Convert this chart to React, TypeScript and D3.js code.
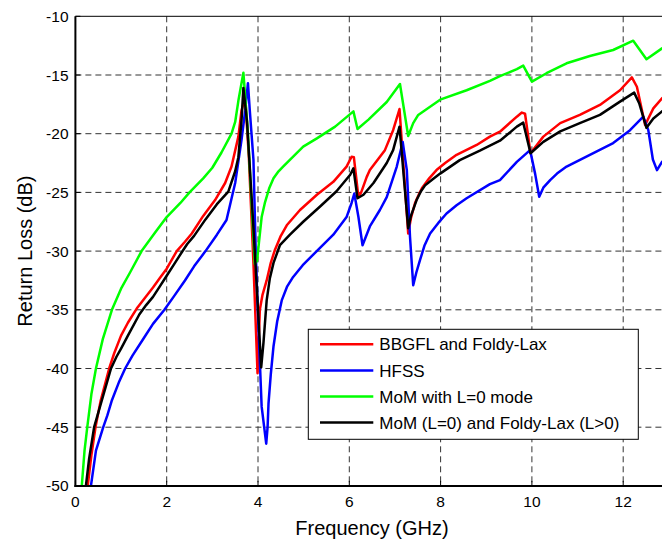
import React from "react";
import * as d3 from "d3";

type Pt = [number, number];

const xTicks = [0, 2, 4, 6, 8, 10, 12];
const yTicks = [-10, -15, -20, -25, -30, -35, -40, -45, -50];

const seriesNames = [
  "BBGFL and Foldy-Lax",
  "HFSS",
  "MoM with L=0 mode",
  "MoM (L=0) and Foldy-Lax (L>0)",
];
const seriesColors = ["#ff0000", "#0000ff", "#00ff00", "#000000"];

const bbgfl: Pt[] = [
  [0.2, -53], [0.27, -50], [0.35, -47.4], [0.44, -45], [0.55, -42.8], [0.74, -40],
  [0.85, -38.7], [1.0, -37.2], [1.15, -36.1], [1.36, -34.8], [1.5, -34.1], [1.7, -33.1],
  [1.85, -32.3], [2.0, -31.5], [2.22, -30], [2.4, -29.2], [2.55, -28.5], [2.8, -27],
  [3.06, -25.65], [3.28, -24.2], [3.42, -22.8], [3.57, -20.25], [3.64, -18.0], [3.72, -16.9],
  [3.8, -22], [3.9, -31], [3.99, -40.4], [4.04, -35], [4.1, -33.7], [4.19, -32.5],
  [4.28, -31], [4.37, -29.9], [4.5, -28.7], [4.63, -27.8], [4.92, -26.5], [5.29, -25.2],
  [5.65, -24.1], [5.94, -22.8], [6.05, -21.96], [6.1, -22.0], [6.2, -25.4], [6.26, -25.0],
  [6.38, -23.7], [6.45, -23.1], [6.78, -21.4], [6.96, -19.7], [7.1, -17.9], [7.29, -28.5],
  [7.35, -27.2], [7.44, -25.9], [7.52, -25.2], [7.59, -24.65], [7.75, -23.8], [7.91, -23.1],
  [8.1, -22.5], [8.35, -21.8], [8.79, -20.96], [9.08, -20.25], [9.3, -19.83], [9.67, -18.55],
  [9.78, -18.2], [9.85, -18.3], [9.97, -21.67], [10.25, -20.25], [10.62, -19.1],
  [11.05, -18.4], [11.49, -17.55], [11.93, -16.3], [12.19, -15.2], [12.3, -16.0],
  [12.48, -19.26], [12.66, -17.84], [12.85, -16.98], [13.2, -16],
];

const hfss: Pt[] = [
  [0.3, -53], [0.34, -50], [0.45, -47], [0.61, -45], [0.7, -44], [0.8, -42.7], [0.95, -41.2],
  [1.09, -40], [1.25, -38.9], [1.5, -37.4], [1.7, -36.2], [1.95, -35], [2.15, -33.9],
  [2.4, -32.5], [2.6, -31.3], [2.85, -30], [3.1, -28.6], [3.31, -27.35], [3.5, -24.2],
  [3.64, -20.5], [3.72, -18], [3.78, -15.7], [3.82, -18], [3.9, -22.2], [3.95, -30],
  [3.99, -34.5], [4.08, -43.25], [4.18, -46.4], [4.21, -45], [4.23, -43], [4.28, -40.5],
  [4.34, -38.1], [4.42, -36], [4.52, -34.2], [4.64, -33], [4.77, -32.2], [4.98, -31.2],
  [5.21, -30.3], [5.65, -28.6], [5.94, -27.1], [6.05, -25.9], [6.11, -25.1], [6.2, -27.1],
  [6.29, -29.5], [6.45, -27.9], [6.67, -26.5], [6.82, -25.4], [7.04, -22.8], [7.17, -20.7],
  [7.26, -23.1], [7.33, -28.8], [7.4, -32.9], [7.47, -31.8], [7.55, -30.75], [7.65, -29.5],
  [7.77, -28.5], [7.95, -27.6], [8.13, -26.8], [8.35, -26.1], [8.57, -25.5], [9.08, -24.3],
  [9.3, -23.95], [9.67, -22.4], [9.96, -21.4], [10.07, -23.4], [10.16, -25.37],
  [10.25, -24.6], [10.4, -23.95], [10.55, -23.4], [10.76, -22.8], [11.27, -21.8],
  [11.78, -20.8], [12.15, -19.7], [12.44, -18.55], [12.55, -19.7], [12.65, -22.2],
  [12.74, -23.1], [12.85, -22.4], [13.1, -21.5],
];

const momL0: Pt[] = [
  [0.1, -53], [0.14, -50], [0.2, -47], [0.26, -45], [0.35, -42.2], [0.45, -40], [0.6, -37.5],
  [0.8, -35], [1.0, -33.2], [1.2, -31.8], [1.45, -30], [1.75, -28.4], [2.0, -27.1],
  [2.3, -25.9], [2.5, -25], [2.8, -23.8], [3.0, -22.9], [3.2, -21.6], [3.42, -20],
  [3.5, -19], [3.57, -17.2], [3.68, -14.8], [3.78, -20], [3.88, -27.5], [3.93, -31.1],
  [3.98, -30.8], [4.02, -29.3], [4.08, -27.1], [4.15, -25.9], [4.25, -24.6], [4.34, -23.8],
  [4.45, -23.2], [4.55, -22.8], [4.99, -21.1], [5.29, -20.4], [5.69, -19.4], [6.09, -18.1],
  [6.18, -19.6], [6.42, -18.8], [6.82, -17.3], [7.11, -15.77], [7.29, -20.2], [7.4, -19.1],
  [7.51, -18.4], [7.99, -17.1], [8.57, -16.3], [9.08, -15.5], [9.3, -15.1], [9.67, -14.5],
  [9.81, -14.2], [10.0, -15.57], [10.32, -14.85], [10.76, -14.0], [11.27, -13.38],
  [11.78, -12.87], [12.22, -12.08], [12.51, -13.66], [12.85, -12.73], [13.2, -11.9],
];

const momFoldy: Pt[] = [
  [0.18, -53], [0.23, -50], [0.3, -47.7], [0.41, -45], [0.55, -43.1], [0.78, -40],
  [0.9, -39], [1.0, -38.3], [1.15, -37.2], [1.4, -35.4], [1.55, -34.6], [1.7, -33.9],
  [1.85, -33], [2.0, -32.1], [2.15, -31.2], [2.33, -30.1], [2.45, -29.4], [2.6, -28.7],
  [2.85, -27.3], [3.1, -26], [3.35, -24.94], [3.5, -23.2], [3.57, -22.0], [3.64, -18.8],
  [3.68, -16.1], [3.76, -19], [3.9, -28], [4.07, -39.9], [4.12, -37.8], [4.19, -34.2],
  [4.26, -32.3], [4.34, -31.0], [4.48, -29.5], [4.7, -28.6], [4.99, -27.5], [5.36, -26.2],
  [5.72, -24.9], [6.02, -23.5], [6.09, -22.95], [6.18, -25.5], [6.31, -25.2], [6.53, -24.2],
  [6.82, -22.5], [6.96, -21.4], [7.1, -19.4], [7.29, -28.06], [7.35, -27], [7.48, -25.6],
  [7.57, -24.9], [7.66, -24.4], [7.82, -23.9], [7.99, -23.4], [8.42, -22.25], [8.86, -21.45],
  [9.3, -20.6], [9.67, -19.4], [9.81, -19.06], [9.97, -21.67], [10.25, -20.7],
  [10.62, -19.8], [11.05, -19.1], [11.49, -18.4], [11.93, -17.27], [12.24, -16.5],
  [12.35, -17.4], [12.51, -19.5], [12.66, -18.7], [12.85, -18.1], [13.2, -17.2],
];

const allSeries = [bbgfl, hfss, momL0, momFoldy];

export default function App() {
  const W = 662;
  const H = 546;
  const left = 75.4;
  const top = 16.3;
  const bottom = 485.9;
  const x = d3.scaleLinear().domain([0, 13]).range([left, left + 13 * 45.65]);
  const y = d3.scaleLinear().domain([-50, -10]).range([bottom, top]);
  const right = x(13);
  const line = d3
    .line<Pt>()
    .x((d) => x(d[0]))
    .y((d) => y(d[1]));
  const font = "Arial, 'Liberation Sans', Helvetica, sans-serif";

  const legX = 308.3;
  const legY = 329.3;
  const legW = 330;
  const legH = 110;
  const rowY = [344.3, 370.5, 396.5, 422.5];

  return (
    <svg
      width={W}
      height={H}
      style={{ position: "absolute", left: 0, top: 0, background: "#fff" }}
      fontFamily={font}
    >
      <defs>
        <clipPath id="plotClip">
          <rect x={left} y={top} width={right - left} height={bottom - top} />
        </clipPath>
      </defs>
      <rect x={0} y={0} width={W} height={H} fill="#fff" />
      <g stroke="#333" strokeWidth={1} strokeDasharray="6,4">
        {xTicks
          .filter((t) => t > 0)
          .map((t) => (
            <line key={"gx" + t} x1={x(t)} x2={x(t)} y1={top} y2={bottom} />
          ))}
        {yTicks
          .filter((t) => t > -50 && t < -10)
          .map((t) => (
            <line key={"gy" + t} x1={left} x2={right} y1={y(t)} y2={y(t)} />
          ))}
      </g>
      <g stroke="#000" strokeWidth={1}>
        {xTicks.map((t) => (
          <line key={"tx" + t} x1={x(t)} x2={x(t)} y1={bottom} y2={bottom - 5} />
        ))}
        {yTicks.map((t) => (
          <line key={"ty" + t} x1={left} x2={left + 5} y1={y(t)} y2={y(t)} />
        ))}
      </g>
      <g clipPath="url(#plotClip)" fill="none" strokeWidth={2.5} strokeLinejoin="round">
        {allSeries.map((s, i) => (
          <path key={"s" + i} d={line(s) || ""} stroke={seriesColors[i]} />
        ))}
      </g>
      <line x1={left} x2={right} y1={top} y2={top} stroke="#000" strokeWidth={1} />
      <line x1={left} x2={left} y1={top} y2={bottom + 1} stroke="#000" strokeWidth={2} />
      <line x1={left - 1} x2={right} y1={bottom} y2={bottom} stroke="#000" strokeWidth={2} />
      <g fontSize={15.5} fill="#000">
        {xTicks.map((t) => (
          <text key={"lx" + t} x={x(t)} y={bottom + 21} textAnchor="middle">
            {t}
          </text>
        ))}
        {yTicks.map((t) => (
          <text key={"ly" + t} x={68.5} y={y(t) + 5.5} textAnchor="end">
            {t}
          </text>
        ))}
      </g>
      <text x={372} y={535} fontSize={20} textAnchor="middle" fill="#000">
        Frequency (GHz)
      </text>
      <text
        transform={`translate(32, ${(top + bottom) / 2}) rotate(-90)`}
        fontSize={20}
        textAnchor="middle"
        fill="#000"
      >
        Return Loss (dB)
      </text>
      <rect x={legX} y={legY} width={legW} height={legH} fill="#fff" stroke="#000" strokeWidth={1} />
      {seriesNames.map((n, i) => (
        <g key={"lg" + i}>
          <line
            x1={320}
            x2={373.3}
            y1={rowY[i]}
            y2={rowY[i]}
            stroke={seriesColors[i]}
            strokeWidth={2.5}
          />
          <text x={379.3} y={rowY[i] + 6} fontSize={17} fill="#000">
            {n}
          </text>
        </g>
      ))}
    </svg>
  );
}
